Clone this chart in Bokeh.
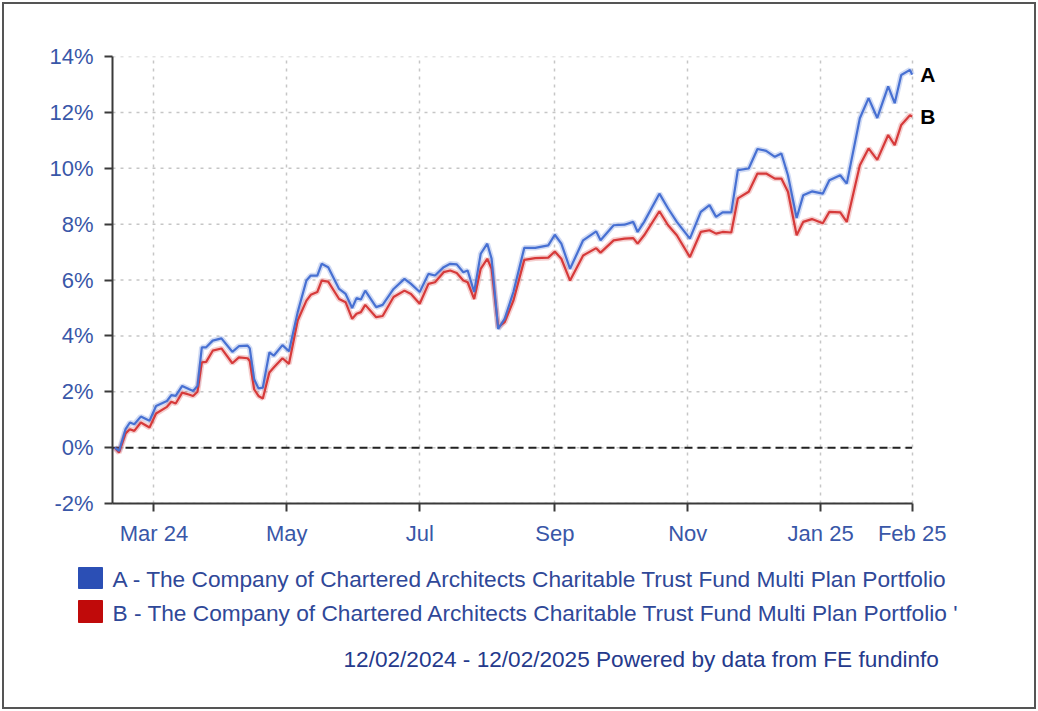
import pandas as pd
from bokeh.plotting import figure
from bokeh.layouts import column
from bokeh.models import Range1d, FixedTicker, PrintfTickFormatter, ColumnDataSource
from bokeh.core.properties import value
from bokeh.embed import file_html
from bokeh.resources import INLINE

# ---------------- data ----------------
start_date = "2024-02-12"
end_date = "2025-02-12"

dates = [
    "2024-02-12", "2024-02-14", "2024-02-17", "2024-02-19", "2024-02-21", "2024-02-24", "2024-02-28",
    "2024-03-02", "2024-03-07", "2024-03-09", "2024-03-11", "2024-03-14", "2024-03-17", "2024-03-19",
    "2024-03-21", "2024-03-23", "2024-03-25", "2024-03-28",
    "2024-04-01", "2024-04-06", "2024-04-09", "2024-04-13", "2024-04-14", "2024-04-16", "2024-04-18",
    "2024-04-20", "2024-04-23", "2024-04-25", "2024-04-29",
    "2024-05-02", "2024-05-06", "2024-05-10", "2024-05-12", "2024-05-15", "2024-05-17", "2024-05-20",
    "2024-05-25", "2024-05-28", "2024-05-31",
    "2024-06-02", "2024-06-04", "2024-06-06", "2024-06-11", "2024-06-14", "2024-06-19", "2024-06-24",
    "2024-06-27",
    "2024-07-01", "2024-07-05", "2024-07-08", "2024-07-12", "2024-07-15", "2024-07-18", "2024-07-21",
    "2024-07-23", "2024-07-26", "2024-07-29",
    "2024-08-01", "2024-08-03", "2024-08-06", "2024-08-09", "2024-08-13", "2024-08-18", "2024-08-23",
    "2024-08-29",
    "2024-09-01", "2024-09-04", "2024-09-08", "2024-09-14", "2024-09-20", "2024-09-22", "2024-09-28",
    "2024-10-03", "2024-10-07", "2024-10-09", "2024-10-12", "2024-10-19", "2024-10-23", "2024-10-27",
    "2024-11-02", "2024-11-07", "2024-11-11", "2024-11-14", "2024-11-17", "2024-11-21", "2024-11-24",
    "2024-11-29",
    "2024-12-03", "2024-12-07", "2024-12-11", "2024-12-14", "2024-12-17", "2024-12-21", "2024-12-24",
    "2024-12-28",
    "2025-01-02", "2025-01-05", "2025-01-10", "2025-01-13", "2025-01-19", "2025-01-23", "2025-01-27",
    "2025-02-01", "2025-02-04", "2025-02-07", "2025-02-11", "2025-02-12",
]

series_a = [
    0.00, -0.12, 0.66, 0.90, 0.84, 1.11, 0.96,
    1.49, 1.67, 1.88, 1.85, 2.21, 2.10, 2.03, 2.21, 3.59, 3.59, 3.83,
    3.91, 3.43, 3.63, 3.65, 3.55, 2.45, 2.12, 2.15, 3.41, 3.29, 3.67,
    3.45, 4.85, 5.98, 6.16, 6.16, 6.58, 6.46, 5.68, 5.50, 5.00,
    5.35, 5.30, 5.62, 5.03, 5.11, 5.68, 6.04, 5.86,
    5.57, 6.22, 6.16, 6.46, 6.58, 6.56, 6.28, 6.34, 5.57, 6.94,
    7.30, 6.76, 4.25, 4.61, 5.57, 7.15, 7.15, 7.24,
    7.62, 7.30, 6.40, 7.42, 7.74, 7.42, 7.96,
    7.98, 8.08, 7.72, 8.08, 9.09, 8.56, 8.08,
    7.48, 8.44, 8.68, 8.26, 8.42, 8.42, 9.93, 9.99,
    10.69, 10.62, 10.41, 10.53, 9.75, 8.22, 9.03, 9.17,
    9.09, 9.57, 9.75, 9.45, 11.79, 12.51, 11.80,
    12.93, 12.33, 13.34, 13.52, 13.35,
]

series_b = [
    0.00, -0.18, 0.51, 0.66, 0.60, 0.90, 0.72,
    1.22, 1.46, 1.64, 1.58, 1.97, 1.90, 1.85, 2.00, 3.05, 3.07, 3.47,
    3.55, 3.02, 3.23, 3.20, 3.10, 2.09, 1.85, 1.76, 2.69, 2.87, 3.20,
    3.00, 4.55, 5.26, 5.47, 5.57, 5.98, 5.94, 5.32, 5.20, 4.61,
    4.79, 4.85, 5.11, 4.67, 4.71, 5.39, 5.62, 5.50,
    5.15, 5.86, 5.92, 6.28, 6.34, 6.25, 5.98, 5.92, 5.32, 6.40,
    6.76, 6.40, 4.31, 4.49, 5.26, 6.72, 6.78, 6.80,
    7.02, 6.76, 5.98, 6.88, 7.14, 6.98, 7.42,
    7.48, 7.50, 7.30, 7.60, 8.46, 7.96, 7.60,
    6.82, 7.72, 7.78, 7.66, 7.72, 7.70, 8.92, 9.16,
    9.81, 9.81, 9.63, 9.63, 9.16, 7.60, 8.08, 8.18,
    8.03, 8.44, 8.42, 8.08, 10.11, 10.71, 10.30,
    11.19, 10.83, 11.55, 11.90, 11.85,
]

series_tags = ["A", "B"]
series_names = [
    "A - The Company of Chartered Architects Charitable Trust Fund  Multi Plan Portfolio",
    "B - The Company of Chartered Architects Charitable Trust Fund  Multi Plan Portfolio '",
]
x_tick_dates = ["2024-03-01", "2024-05-01", "2024-07-01", "2024-09-01",
                "2024-11-01", "2025-01-01", "2025-02-12"]
x_tick_labels = ["Mar 24", "May", "Jul", "Sep", "Nov", "Jan 25", "Feb 25"]
y_ticks = [-2, 0, 2, 4, 6, 8, 10, 12, 14]
footer_text = "12/02/2024 - 12/02/2025 Powered by data from FE fundinfo"

# ---------------- styles ----------------
FONT = "Liberation Sans"
BLUE_LINE = "#4770d2"
RED_LINE = "#d63a3a"
BLUE_BOX = "#2b4fb5"
RED_BOX = "#c00a0a"
TICK_TXT = "#3957a8"
LEG_TXT = "#2f4898"
FOOT_TXT = "#253a8c"
AXIS_COL = "#3a3a3a"
GRID_COL = "#c6c6c6"

t0 = pd.Timestamp(start_date)
days = [(pd.Timestamp(d) - t0).days for d in dates]
end_day = (pd.Timestamp(end_date) - t0).days
x_lo = -1
x_hi = end_day + 30
src = ColumnDataSource(dict(x=days, a=series_a, b=series_b))

W = 1038
H1, H2 = 553, 158

# ---------------- main chart ----------------
p = figure(width=W, height=H1, output_backend="svg", toolbar_location=None,
           x_range=Range1d(x_lo, x_hi), y_range=Range1d(y_ticks[0], y_ticks[-1]),
           min_border_left=112, min_border_right=61,
           min_border_top=56, min_border_bottom=50)
p.frame_align = False
p.outline_line_color = None
p.background_fill_color = None
p.border_fill_color = None

xt = [(pd.Timestamp(d) - t0).days for d in x_tick_dates]
p.xaxis.ticker = FixedTicker(ticks=xt)
p.xaxis.major_label_overrides = {int(t): lab for t, lab in zip(xt, x_tick_labels)}
p.xaxis.bounds = (x_lo, end_day)
p.yaxis.ticker = FixedTicker(ticks=y_ticks)
p.yaxis.formatter = PrintfTickFormatter(format="%d%%")

for ax in (p.xaxis[0], p.yaxis[0]):
    ax.axis_line_color = AXIS_COL
    ax.axis_line_width = 2
    ax.major_tick_line_color = AXIS_COL
    ax.major_tick_line_width = 2
    ax.major_tick_out = 8
    ax.major_tick_in = 0
    ax.minor_tick_line_color = None
    ax.major_label_text_font = FONT
    ax.major_label_text_font_size = "22px"
    ax.major_label_text_color = TICK_TXT
p.yaxis.major_label_standoff = 11
p.xaxis.major_label_standoff = 9

# vertical grid from the x ticker; horizontal grid limited to the axis span
p.xgrid.grid_line_color = GRID_COL
p.xgrid.grid_line_dash = "3 5"
p.xgrid.grid_line_width = 1.5
p.ygrid.visible = False
p.segment(x0=[x_lo] * len(y_ticks), x1=[end_day] * len(y_ticks), y0=y_ticks, y1=y_ticks,
          line_color=GRID_COL, line_dash="3 5", line_width=1.5)
# zero reference line
p.segment(x0=[x_lo], x1=[end_day], y0=[0], y1=[0],
          line_color="#222222", line_dash="8 5", line_width=2)

# soft halo under each line, then the line itself
p.line("x", "a", source=src, line_color=BLUE_LINE, line_width=5.5, line_alpha=0.25)
p.line("x", "b", source=src, line_color=RED_LINE, line_width=5.5, line_alpha=0.25)
p.line("x", "b", source=src, line_color=RED_LINE, line_width=2.2)
p.line("x", "a", source=src, line_color=BLUE_LINE, line_width=2.2)

# end-of-line tags "A" / "B"
tag_src = ColumnDataSource(dict(x=[days[-1], days[-1]], y=[series_a[-1], series_b[-1]],
                                t=series_tags))
p.text(x="x", y="y", text="t", source=tag_src, x_offset=8,
       text_baseline="middle", text_align="left", text_font=value(FONT),
       text_font_style="bold", text_font_size="21px", text_color="black")

# ---------------- legend + footer strip (pixel coordinates, y downwards) ----------------
q = figure(width=W, height=H2, output_backend="svg", toolbar_location=None,
           x_range=Range1d(0, W), y_range=Range1d(H2, 0),
           x_axis_location=None, y_axis_location=None, min_border=0)
q.frame_align = False
q.outline_line_color = None
q.grid.visible = False
q.background_fill_color = None
q.border_fill_color = None

q.quad(left=[78, 78], right=[102, 102], top=[14, 47], bottom=[35, 69],
       fill_color=[BLUE_BOX, RED_BOX], line_color=[BLUE_BOX, RED_BOX])
q.text(x=[112, 112], y=[25, 59], text=series_names,
       text_baseline="middle", text_align="left", text_font=value(FONT),
       text_font_size="22.7px", text_color=LEG_TXT)
q.text(x=[343], y=[106], text=[footer_text],
       text_baseline="middle", text_align="left", text_font=value(FONT),
       text_font_size="22.6px", text_color=FOOT_TXT)

layout = column(p, q, spacing=0)
layout.styles = {"outline": "2px solid #555555", "outline-offset": "-4px"}

open("out.html", "w").write(file_html(layout, INLINE))
